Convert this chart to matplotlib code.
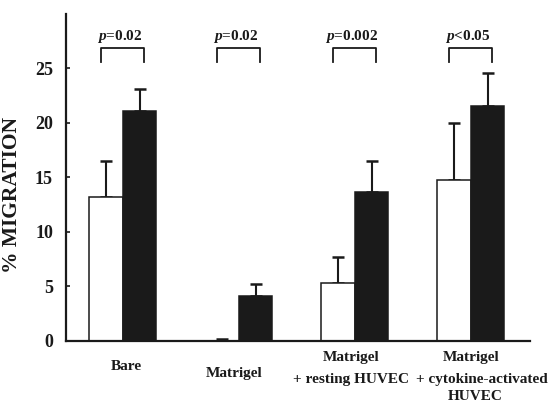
import matplotlib
matplotlib.use("Agg")
import matplotlib.pyplot as plt
import numpy as np

plt.rcParams["font.family"] = ["Liberation Serif", "DejaVu Serif"]
plt.rcParams["font.weight"] = "bold"
plt.rcParams["mathtext.fontset"] = "custom"
plt.rcParams["mathtext.it"] = "Liberation Serif:italic:bold"
plt.rcParams["mathtext.rm"] = "Liberation Serif:bold"

# Migration data (mean and upper SE) per substrate condition
groups = ["Bare", "Matrigel", "Matrigel\n+ resting HUVEC", "Matrigel\n+ cytokine-activated\nHUVEC"]
control_mean = [13.2, 0.0, 5.3, 14.8]
control_err = [3.3, 0.2, 2.4, 5.2]
treated_mean = [21.1, 4.1, 13.7, 21.6]
treated_err = [2.0, 1.1, 2.8, 3.0]
p_labels = ["=0.02", "=0.02", "=0.002", "<0.05"]
yticks = [0, 5, 10, 15, 20, 25]

fig = plt.figure(figsize=(5.52, 4.04), dpi=100)
ax = fig.add_axes([0.1196, 0.156, 0.8404, 0.8094])

x = np.arange(len(groups))
w = 0.29
ax.bar(x - w / 2, control_mean, w, color="white", edgecolor="#1a1a1a", linewidth=1.1, zorder=2)
ax.bar(x + w / 2, treated_mean, w, color="#1a1a1a", edgecolor="#1a1a1a", linewidth=1.1, zorder=2)
ax.errorbar(x - w / 2, control_mean, yerr=[np.zeros(4), control_err], fmt="none",
            ecolor="#1a1a1a", elinewidth=1.5, capsize=4.5, capthick=1.8, zorder=1)
ax.errorbar(x + w / 2, treated_mean, yerr=[np.zeros(4), treated_err], fmt="none",
            ecolor="#1a1a1a", elinewidth=1.5, capsize=4.5, capthick=1.8, zorder=1)

# significance brackets
for xi, lab in zip(x, p_labels):
    ax.plot([xi - 0.185, xi - 0.185, xi + 0.185, xi + 0.185],
            [25.6, 26.85, 26.85, 25.6], color="#1a1a1a", lw=1.3, clip_on=False)
    ax.text(xi - 0.03, 27.15, r"$\mathit{p}$" + lab, ha="center", va="bottom",
            fontsize=11, fontweight="bold", color="#1a1a1a")

ax.set_xlim(-0.49, 3.51)
ax.set_ylim(0, 30)
ax.set_yticks(yticks)
ax.set_yticklabels([str(t) for t in yticks], fontsize=13, fontweight="bold")
ax.set_xticks([])
ax.tick_params(axis="y", direction="in", length=3, width=1.2, pad=9.4, colors="#1a1a1a")
for s in ["top", "right"]:
    ax.spines[s].set_visible(False)
for s in ["left", "bottom"]:
    ax.spines[s].set_linewidth(1.6)
    ax.spines[s].set_color("#1a1a1a")

ax.set_ylabel("% MIGRATION", fontsize=15.5, fontweight="bold", color="#1a1a1a")
ax.yaxis.set_label_coords(-0.094, 0.446)

# category labels under each group
tr = ax.get_xaxis_transform()
lab_kw = dict(transform=tr, ha="center", va="center", fontsize=11, fontweight="bold", color="#1a1a1a")
ax.text(0.03, -0.078, "Bare", **lab_kw)
ax.text(0.96, -0.098, "Matrigel", **lab_kw)
ax.text(1.97, -0.050, "Matrigel", **lab_kw)
ax.text(1.97, -0.117, "+ resting HUVEC", **lab_kw)
ax.text(3.00, -0.050, "Matrigel", **lab_kw)
ax.text(3.095, -0.117, "+ cytokine-activated", **lab_kw)
ax.text(3.04, -0.170, "HUVEC", **lab_kw)

fig.savefig("out.png", dpi=100)
